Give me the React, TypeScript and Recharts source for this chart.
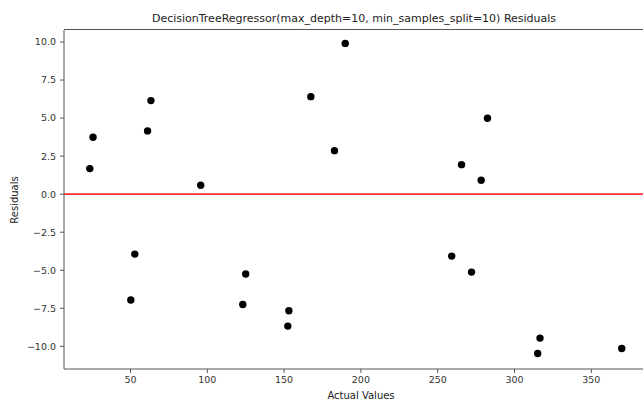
import React from "react";
import {
  ScatterChart,
  Scatter,
  XAxis,
  YAxis,
  ReferenceLine,
} from "recharts";

const actualValues = [
  23.5, 25.6, 61.1, 63.3, 95.7, 52.8, 50.2, 189.8, 167.4, 182.8, 282.4,
  265.5, 278.3, 125.0, 123.1, 153.1, 152.4, 316.6, 315.1, 369.8, 259.1, 272.0,
];
const residuals = [
  1.68, 3.74, 4.16, 6.15, 0.59, -3.94, -6.96, 9.91, 6.41, 2.86, 4.99,
  1.94, 0.92, -5.25, -7.25, -7.66, -8.67, -9.46, -10.47, -10.14, -4.07, -5.12,
];
const xTicks = [50, 100, 150, 200, 250, 300, 350];
const yTicks = [-10, -7.5, -5, -2.5, 0, 2.5, 5, 7.5, 10];

const data = actualValues.map((x, i) => ({ x, y: residuals[i] }));

const FONT = "DejaVu Sans";
const fmtY = (v: number) => {
  const s = Math.abs(v).toFixed(1);
  return v < 0 ? "\u2212" + s : s;
};

const Dot = (props: any) => {
  const { cx, cy } = props;
  return <circle cx={cx} cy={cy} r={3.7} fill="#000" />;
};

export default function App() {
  return (
    <div
      style={{
        position: "fixed",
        left: 0,
        top: 0,
        width: 643,
        height: 405,
        overflow: "hidden",
        background: "#fff",
      }}
    >
      <svg
        width={643}
        height={405}
        style={{ position: "absolute", left: 0, top: 0, pointerEvents: "none" }}
      >
        <text
          x={354}
          y={22}
          textAnchor="middle"
          fontFamily={FONT}
          fontSize={11}
          fill="#222"
        >
          DecisionTreeRegressor(max_depth=10, min_samples_split=10) Residuals
        </text>
        <text
          x={0}
          y={0}
          transform="translate(18,200) rotate(-90)"
          textAnchor="middle"
          fontFamily={FONT}
          fontSize={10}
          fill="#222"
        >
          Residuals
        </text>
        <text
          x={361}
          y={399}
          textAnchor="middle"
          fontFamily={FONT}
          fontSize={10}
          fill="#222"
        >
          Actual Values
        </text>
      </svg>
      <div style={{ position: "absolute", left: 0, top: 0 }}>
        <ScatterChart
          width={660}
          height={405}
          margin={{ top: 30, right: 16, bottom: 0, left: 0 }}
        >
          <XAxis
            type="number"
            dataKey="x"
            domain={[6.7, 384.3]}
            ticks={xTicks}
            height={36}
            allowDataOverflow
            tickSize={4}
            tickMargin={3}
            stroke="#555"
            tick={{ fontFamily: FONT, fontSize: 9.5, fill: "#333" }}
          />
          <YAxis
            type="number"
            dataKey="y"
            domain={[-11.49, 10.79]}
            ticks={yTicks}
            width={64}
            allowDataOverflow
            tickFormatter={fmtY}
            tickSize={4}
            tickMargin={4}
            stroke="#555"
            tick={{ fontFamily: FONT, fontSize: 9.5, fill: "#333" }}
          />
          <ReferenceLine
            y={0}
            stroke="#ff3030"
            strokeWidth={1.7}
            ifOverflow="extendDomain"
          />
          <Scatter
            data={data}
            shape={<Dot />}
            isAnimationActive={false}
          />
        </ScatterChart>
      </div>
      <div
        style={{
          position: "absolute",
          left: 64,
          top: 29,
          width: 600,
          height: 1,
          background: "#555",
        }}
      />
    </div>
  );
}
